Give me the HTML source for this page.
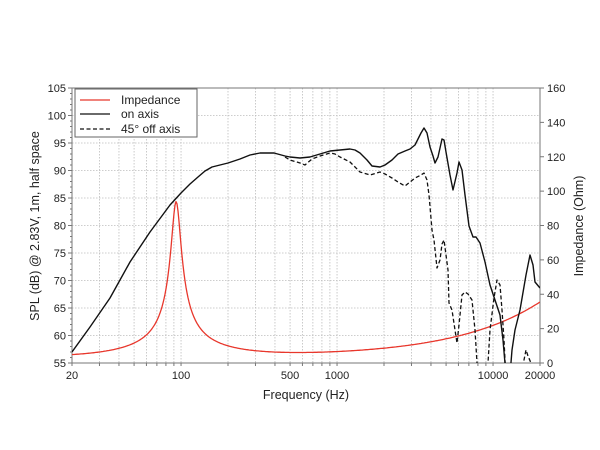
<!DOCTYPE html>
<html><head><meta charset="utf-8"><style>
html,body{margin:0;padding:0;background:#fff;}
svg{display:block;font-family:"Liberation Sans",Arial,sans-serif;}
</style></head><body>
<svg id="s" width="600" height="450" viewBox="0 0 600 450" xmlns="http://www.w3.org/2000/svg">
<defs><clipPath id="c"><rect x="72" y="88" width="468" height="275"/></clipPath></defs>
<g id="grid" stroke="#bdbdbd" stroke-width="0.8" stroke-dasharray="1.5,1.5"></g>
<rect x="72" y="88" width="468" height="275" fill="none" stroke="#777" stroke-width="1"/>
<g id="ticks" stroke="#777" stroke-width="1"></g>
<g id="lab" font-size="11" fill="#222"></g>
<g clip-path="url(#c)" fill="none" stroke-linejoin="round">
<path id="red" stroke="#e8372c" stroke-width="1.3"/>
<polyline stroke="#111" stroke-width="1.3" stroke-dasharray="4,2.5" points="285,157 290,160 300,163 305,165 312,159 320,156 330,153 335,154 340,157 350,162 360,172 370,175 380,172 385,174 392,178 398,182 405,186 410,182 415,178 421,175 424,173 427,180 429,195 432,230 434,240 437,268 440,260 442,244 444,240 446,255 448,270 449,303 452,310 455,330 457,343 459,325 462,295 465,292 468,294 472,300 475,330 477,363 478,380"/>
<polyline stroke="#111" stroke-width="1.3" stroke-dasharray="4,2.5" points="486,380 488,363 490,330 494,298 497,280 500,285 502,310 504,340 506,380"/>
<polyline stroke="#111" stroke-width="1.3" stroke-dasharray="4,2.5" points="522,380 524,360 526,350 528,356 531,363 533,380"/>
<polyline stroke="#111" stroke-width="1.4" points="72,352 90,327 110,298 130,262 150,232 170,205 181,193 190,184 198,177 205,171 212,167 220,165 228,163 240,159 250,155 260,153 274,153 285,156 290,157 300,158 310,157 320,154 330,151 340,150 350,149 355,150 360,153 367,160 372,166 380,167 385,165 392,160 398,154 405,151 410,149 415,145 421,133 424,128 427,133 430,147 433,156 435,163 438,157 442,139 444,140 446,152 450,175 453,190 457,173 459,162 462,170 465,195 469,226 473,237 476,237 480,243 485,262 490,285 495,300 500,315 503,340 506,375 510,375 512,350 515,330 520,310 526,275 530,255 533,265 535,282 540,288"/>
</g>
<rect x="75" y="89" width="122" height="48" fill="#fff" stroke="#666" stroke-width="1"/>
<line x1="80" y1="100" x2="110" y2="100" stroke="#e8372c" stroke-width="1.3"/>
<line x1="80" y1="114" x2="110" y2="114" stroke="#111" stroke-width="1.3"/>
<line x1="80" y1="129" x2="110" y2="129" stroke="#111" stroke-width="1.3" stroke-dasharray="4,2.5"/>
<g font-size="12" fill="#222"><text x="121" y="104">Impedance</text><text x="121" y="118">on axis</text><text x="121" y="133">45° off axis</text></g>
<text x="306" y="399" font-size="12.5" text-anchor="middle" fill="#222">Frequency (Hz)</text>
<text transform="translate(39,226) rotate(-90)" font-size="12.5" text-anchor="middle" fill="#222">SPL (dB) @ 2.83V, 1m, half space</text>
<text transform="translate(583,226) rotate(-90)" font-size="12.5" text-anchor="middle" fill="#222">Impedance (Ohm)</text>
</svg>
<script>
var NS="http://www.w3.org/2000/svg";
function X(f){return 72+156*(Math.log10(f)-Math.log10(20));}
function el(p,t,a,txt){var e=document.createElementNS(NS,t);for(var k in a)e.setAttribute(k,a[k]);if(txt!==undefined)e.textContent=txt;document.getElementById(p).appendChild(e);}
var fs=[20,30,40,50,60,70,80,90,100,200,300,400,500,600,700,800,900,1000,2000,3000,4000,5000,6000,7000,8000,9000,10000,20000];
fs.forEach(function(f){var x=X(f);if(f>20&&f<20000)el("grid","line",{x1:x,x2:x,y1:88,y2:363});});
for(var d=60;d<=100;d+=5){var y=88+(105-d)*5.5;el("grid","line",{x1:72,x2:540,y1:y,y2:y});}
for(var d=55;d<=105;d+=5){var y=88+(105-d)*5.5;el("ticks","line",{x1:68,x2:72,y1:y,y2:y});el("lab","text",{x:66,y:y+4,"text-anchor":"end"},d);}
for(var d=56;d<105;d++){if(d%5){var y=88+(105-d)*5.5;el("ticks","line",{x1:70,x2:72,y1:y,y2:y});}}
for(var z=0;z<=160;z+=20){var y=363-z*275/160;el("ticks","line",{x1:540,x2:544,y1:y,y2:y});el("lab","text",{x:547,y:y+4},z);}
[20,100,500,1000,10000,20000].forEach(function(f){el("lab","text",{x:X(f),y:379,"text-anchor":"middle"},f);});
fs.forEach(function(f){var x=X(f);el("ticks","line",{x1:x,x2:x,y1:363,y2:366});});
var d="";for(var i=0;i<=468;i++){var f=20*Math.pow(10,i/156);var r=f/93-93/f;var u=6.5*r;var Re=3.5,Rp=90;
var re=Re+Rp/(1+u*u),im=Rp*u/(1+u*u);var Z=Math.sqrt(re*re+im*im)+0.0116*Math.pow(f,0.8);
var y=363-Z*275/160;d+=(i?"L":"M")+(72+i)+","+y.toFixed(1);}
document.getElementById("red").setAttribute("d",d);
</script>
</body></html>
